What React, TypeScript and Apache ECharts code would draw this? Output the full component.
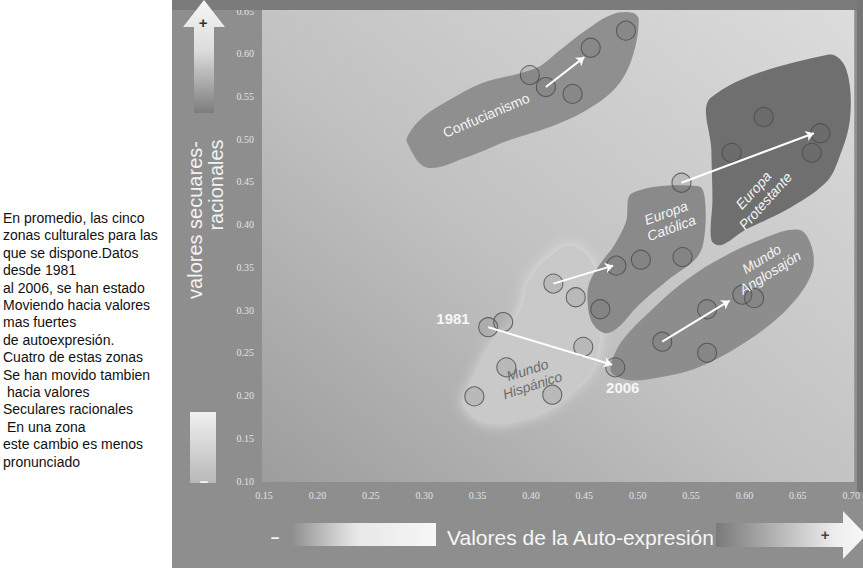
import React, { useEffect, useRef } from "react";
import * as echarts from "echarts";

// ---- axis ticks ----
const xTicks = [0.15, 0.2, 0.25, 0.3, 0.35, 0.4, 0.45, 0.5, 0.55, 0.6, 0.65, 0.7];
const yTicks = [0.1, 0.15, 0.2, 0.25, 0.3, 0.35, 0.4, 0.45, 0.5, 0.55, 0.6, 0.65];

// ---- country points (auto-expresión, secular-racional) ----
const confucianismoPoints = [[0.399, 0.575], [0.414, 0.561], [0.439, 0.553], [0.456, 0.607], [0.489, 0.627]];
const protestantePoints = [[0.541, 0.449], [0.588, 0.484], [0.618, 0.526], [0.663, 0.484], [0.671, 0.507]];
const catolicaPoints = [[0.421, 0.331], [0.442, 0.315], [0.465, 0.301], [0.48, 0.352], [0.503, 0.359], [0.542, 0.362]];
const hispanoPoints = [[0.36, 0.28], [0.374, 0.286], [0.449, 0.257], [0.479, 0.233], [0.347, 0.199], [0.377, 0.233], [0.42, 0.201]];
const anglosajonPoints = [[0.523, 0.263], [0.565, 0.301], [0.598, 0.318], [0.609, 0.314], [0.565, 0.25]];

// ---- 1981 -> 2006 average movement ----
const arrowFrom = [[0.414, 0.561], [0.541, 0.449], [0.421, 0.331], [0.36, 0.28], [0.523, 0.263]];
const arrowTo = [[0.45, 0.596], [0.665, 0.507], [0.477, 0.352], [0.476, 0.236], [0.586, 0.311]];

// ---- cultural zones (outline in data units) ----
const zoneHispano = [[0.427, 0.372], [0.399, 0.337], [0.389, 0.297], [0.364, 0.261], [0.343, 0.21], [0.336, 0.191], [0.358, 0.168], [0.399, 0.175], [0.42, 0.187], [0.439, 0.206], [0.457, 0.23], [0.464, 0.261], [0.466, 0.297], [0.463, 0.332], [0.454, 0.362], [0.44, 0.375]];
const zoneConfucianismo = [[0.284, 0.496], [0.302, 0.467], [0.34, 0.479], [0.38, 0.499], [0.417, 0.514], [0.452, 0.534], [0.48, 0.561], [0.495, 0.596], [0.501, 0.64], [0.495, 0.648], [0.476, 0.646], [0.452, 0.628], [0.427, 0.604], [0.408, 0.585], [0.389, 0.577], [0.355, 0.566], [0.324, 0.546], [0.299, 0.526], [0.286, 0.507]];
const zoneProtestante = [[0.569, 0.549], [0.679, 0.599], [0.695, 0.583], [0.699, 0.526], [0.688, 0.476], [0.676, 0.449], [0.639, 0.417], [0.601, 0.394], [0.578, 0.376], [0.569, 0.382], [0.57, 0.429], [0.569, 0.487]];
const zoneCatolica = [[0.495, 0.437], [0.557, 0.445], [0.563, 0.429], [0.562, 0.382], [0.555, 0.361], [0.528, 0.335], [0.501, 0.306], [0.481, 0.279], [0.469, 0.273], [0.457, 0.286], [0.453, 0.312], [0.455, 0.333], [0.466, 0.356], [0.478, 0.376], [0.489, 0.403]];
const zoneAnglosajon = [[0.663, 0.374], [0.651, 0.394], [0.614, 0.382], [0.571, 0.356], [0.539, 0.329], [0.513, 0.3], [0.492, 0.274], [0.48, 0.253], [0.475, 0.228], [0.492, 0.218], [0.52, 0.221], [0.557, 0.233], [0.604, 0.265], [0.642, 0.304], [0.663, 0.343]];

// ---- zone labels ----
const zoneLabels = ["Mundo\nHispánico", "Confucianismo", "Europa\nProtestante", "Europa\nCatólica", "Mundo\nAnglosajón"];
const zoneLabelPos = [[0.399, 0.221], [0.358, 0.528], [0.614, 0.434], [0.529, 0.405], [0.62, 0.352]];
const yearLabels = ["1981", "2006"];
const yearLabelPos = [[0.327, 0.29], [0.486, 0.21]];

const noteLines = [
  "En promedio, las cinco",
  "zonas culturales para las",
  "que se dispone.Datos",
  "desde 1981",
  "al 2006, se han estado",
  "Moviendo hacia valores",
  "mas fuertes",
  "de autoexpresión.",
  "Cuatro de estas zonas",
  "Se han movido tambien",
  "hacia valores",
  "Seculares racionales",
  "En una zona",
  "este cambio es menos",
  "pronunciado",
];
const noteIndent = [0, 0, 0, 0, 0, 0, 0, 0, 0, 0, 1, 0, 1, 0, 0];

// ---- styling (not data) ----
const zonePolys = [zoneHispano, zoneConfucianismo, zoneProtestante, zoneCatolica, zoneAnglosajon];
const zoneFills = ["#c9c9c9", "#8f8f8f", "#6f6f6f", "#8a8a8a", "#8d8d8d"];
const labelRot = [18, 23, 48, 20, 32];
const labelColor = ["#6c6c6c", "#f4f4f4", "#f4f4f4", "#f4f4f4", "#f4f4f4"];
const labelItalic = [true, false, true, true, true];

export default function App() {
  const ref = useRef<HTMLDivElement>(null);
  useEffect(() => {
    if (!ref.current) return;
    const chart = echarts.init(ref.current, null, { renderer: "svg" });
    const xMin = xTicks[0], xMax = xTicks[xTicks.length - 1];
    const yMin = yTicks[0], yMax = yTicks[yTicks.length - 1];
    const font = "Liberation Sans, Arial, sans-serif";

    const pointSeries = [confucianismoPoints, protestantePoints, catolicaPoints, hispanoPoints, anglosajonPoints].map((pts) => ({
      type: "scatter",
      z: 4,
      symbol: "circle",
      symbolSize: 19,
      silent: true,
      data: pts,
      itemStyle: { color: "rgba(95,95,95,0.18)", borderColor: "#4c4c4c", borderWidth: 1.1 },
    }));

    const graphic: any[] = [
      { type: "rect", z: 1, shape: { x: 172, y: 0, width: 691, height: 10 }, style: { fill: "#7b7b7b" } },
      { type: "rect", z: 1, shape: { x: 857, y: 0, width: 6, height: 492 }, style: { fill: "#767676" } },
      {
        type: "polygon", z: 1,
        shape: { points: [[204, 0], [225, 27], [214, 27], [214, 113], [194, 113], [194, 27], [183, 27]] },
        style: { fill: new echarts.graphic.LinearGradient(0, 0, 0, 1, [{ offset: 0, color: "#f6f6f6" }, { offset: 0.45, color: "#dcdcdc" }, { offset: 1, color: "#7c7c7c" }]) },
      },
      { type: "text", z: 2, x: 203, y: 22, style: { text: "+", fill: "#333", font: "bold 15px " + font, align: "center", verticalAlign: "middle" } },
      {
        type: "rect", z: 1, shape: { x: 190, y: 412, width: 26, height: 71 },
        style: { fill: new echarts.graphic.LinearGradient(0, 0, 0, 1, [{ offset: 0, color: "#f0f0f0" }, { offset: 1, color: "#b8b8b8" }]) },
      },
      { type: "text", z: 2, x: 204, y: 481, style: { text: "−", fill: "#f6f6f6", font: "bold 15px " + font, align: "center", verticalAlign: "middle" } },
      {
        type: "rect", z: 1, shape: { x: 292, y: 523, width: 144, height: 23 },
        style: { fill: new echarts.graphic.LinearGradient(0, 0, 1, 0, [{ offset: 0, color: "rgba(240,240,240,0)" }, { offset: 0.45, color: "#e8e8e8" }, { offset: 1, color: "#f6f6f6" }]) },
      },
      { type: "text", z: 2, x: 275, y: 537, style: { text: "−", fill: "#f6f6f6", font: "bold 15px " + font, align: "center", verticalAlign: "middle" } },
      { type: "text", z: 2, x: 447, y: 537, style: { text: "Valores de la Auto-expresión", fill: "#f6f6f6", font: "21px " + font, align: "left", verticalAlign: "middle" } },
      {
        type: "polygon", z: 1,
        shape: { points: [[716, 523], [843, 523], [843, 511], [866, 535], [843, 559], [843, 547], [716, 547]] },
        style: { fill: new echarts.graphic.LinearGradient(0, 0, 1, 0, [{ offset: 0, color: "#7a7a7a" }, { offset: 0.8, color: "#eeeeee" }, { offset: 1, color: "#f8f8f8" }]) },
      },
      { type: "text", z: 2, x: 825, y: 534, style: { text: "+", fill: "#444", font: "bold 15px " + font, align: "center", verticalAlign: "middle" } },
      { type: "text", z: 2, x: 195, y: 220, rotation: Math.PI / 2, style: { text: "valores secuares-", fill: "#f2f2f2", font: "20px " + font, align: "center", verticalAlign: "middle" } },
      { type: "text", z: 2, x: 216, y: 185, rotation: Math.PI / 2, style: { text: "racionales", fill: "#f2f2f2", font: "20px " + font, align: "center", verticalAlign: "middle" } },
    ];
    noteLines.forEach((line, i) => {
      graphic.push({
        type: "text", z: 2, x: 3 + noteIndent[i] * 4, y: 218 + i * 17.4,
        style: { text: line, fill: "#111", font: "14px " + font, align: "left", verticalAlign: "middle" },
      });
    });

    chart.setOption({
      animation: false,
      backgroundColor: "transparent",
      grid: { left: 264, right: 11, top: 11, bottom: 87, containLabel: false },
      xAxis: {
        type: "value", min: xMin, max: xMax, interval: 0.05,
        axisLine: { show: false }, axisTick: { show: false }, splitLine: { show: false },
        axisLabel: { color: "#e2e2e2", fontSize: 10, fontFamily: "Liberation Serif, serif", margin: 9, formatter: (v: number) => v.toFixed(2) },
      },
      yAxis: {
        type: "value", min: yMin, max: yMax, interval: 0.05,
        axisLine: { show: false }, axisTick: { show: false }, splitLine: { show: false },
        axisLabel: { color: "#e2e2e2", fontSize: 10, fontFamily: "Liberation Serif, serif", margin: 10, formatter: (v: number) => v.toFixed(2) },
      },
      graphic,
      series: [
        {
          type: "custom", z: 1, silent: true,
          data: [[xMin, yMin]],
          renderItem: (params: any, api: any) => {
            const tl = api.coord([xMin, yMax]);
            const br = api.coord([xMax, yMin]);
            return {
              type: "rect",
              shape: { x: tl[0] - 2, y: tl[1] - 1, width: br[0] - tl[0] + 5, height: br[1] - tl[1] + 2 },
              style: {
                fill: new echarts.graphic.LinearGradient(0, 1, 1, 0, [
                  { offset: 0, color: "#9d9d9d" },
                  { offset: 0.45, color: "#c1c1c1" },
                  { offset: 1, color: "#dcdcdc" },
                ]),
              },
            };
          },
        },
        {
          type: "custom", z: 2, silent: true,
          data: zonePolys.map((p) => p[0]),
          renderItem: (params: any, api: any) => {
            const i = params.dataIndex;
            const pts = zonePolys[i].map((p) => api.coord(p));
            return {
              type: "polygon",
              shape: { points: pts, smooth: 0.35 },
              style: i === 0
                ? { fill: zoneFills[i], shadowBlur: 14, shadowColor: "rgba(228,228,228,0.95)" }
                : { fill: zoneFills[i] },
            };
          },
        },
        ...pointSeries,
        {
          type: "lines", coordinateSystem: "cartesian2d", z: 5, silent: true,
          symbol: ["none", "arrow"], symbolSize: 8,
          lineStyle: { color: "#ffffff", width: 2, opacity: 1 },
          data: arrowFrom.map((f, i) => ({ coords: [f, arrowTo[i]] })),
        },
        {
          type: "custom", z: 6, silent: true,
          data: zoneLabelPos,
          renderItem: (params: any, api: any) => {
            const i = params.dataIndex;
            const c = api.coord(zoneLabelPos[i]);
            return {
              type: "text", x: c[0], y: c[1], rotation: (labelRot[i] * Math.PI) / 180,
              style: {
                text: zoneLabels[i], fill: labelColor[i],
                font: (labelItalic[i] ? "italic " : "") + "14px " + font,
                lineHeight: 16, align: "center", verticalAlign: "middle",
              },
            };
          },
        },
        {
          type: "custom", z: 6, silent: true,
          data: yearLabelPos,
          renderItem: (params: any, api: any) => {
            const i = params.dataIndex;
            const c = api.coord(yearLabelPos[i]);
            return {
              type: "text", x: c[0], y: c[1],
              style: { text: yearLabels[i], fill: "#f6f6f6", font: "bold 15px " + font, align: "center", verticalAlign: "middle" },
            };
          },
        },
      ],
    } as any);
    return () => chart.dispose();
  }, []);

  return (
    <div
      style={{
        position: "fixed", left: 0, top: 0, width: 863, height: 568,
        background: "linear-gradient(to right, #ffffff 172px, #8e8e8e 172px)",
      }}
    >
      <div ref={ref} style={{ width: 863, height: 568 }} />
    </div>
  );
}
